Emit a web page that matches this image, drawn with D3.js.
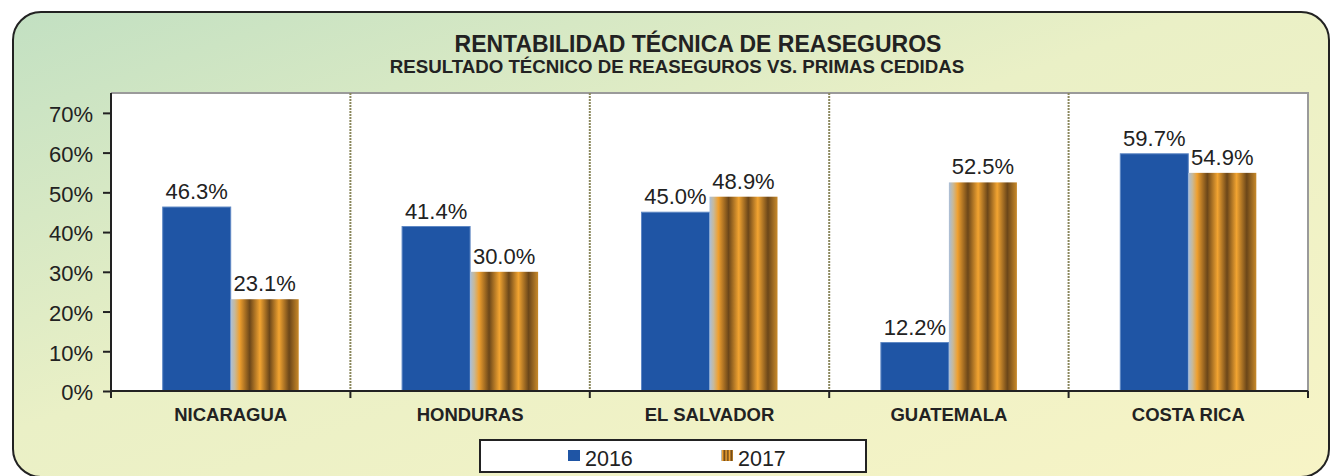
<!DOCTYPE html>
<html>
<head>
<meta charset="utf-8">
<script src="https://cdn.jsdelivr.net/npm/d3@7"></script>
<style>
  body { margin: 0; background: #fff; }
  svg { display: block; font-family: "Liberation Sans", Arial, sans-serif; }
</style>
</head>
<body>
<svg id="chart"></svg>
<script>
const categories = ["NICARAGUA", "HONDURAS", "EL SALVADOR", "GUATEMALA", "COSTA RICA"];
const seriesNames = ["2016", "2017"];
const values2016 = [0.463, 0.414, 0.450, 0.122, 0.597];
const values2017 = [0.231, 0.300, 0.489, 0.525, 0.549];
const yTicks = [0, 0.1, 0.2, 0.3, 0.4, 0.5, 0.6, 0.7];

const W = 1330, H = 476;
const plot = { left: 111, right: 1308, top: 93, bottom: 391 };

const svg = d3.select("#chart").attr("width", W).attr("height", H);
const defs = svg.append("defs");

// background gradient, green top-left to pale yellow
const bg = defs.append("linearGradient").attr("id", "bg")
  .attr("x1", 0).attr("y1", 0).attr("x2", 1).attr("y2", 1);
bg.append("stop").attr("offset", "0%").attr("stop-color", "#c2e0c2");
bg.append("stop").attr("offset", "45%").attr("stop-color", "#eaf0c6");
bg.append("stop").attr("offset", "100%").attr("stop-color", "#f7f4c6");

// striped fill for 2017
const stripes = defs.append("linearGradient").attr("id", "stripes")
  .attr("x1", 0).attr("y1", 0).attr("x2", 1).attr("y2", 0);
[
  [0, "#a9bfdc"], [0.06, "#c7b99a"], [0.13, "#f0a02e"], [0.28, "#6b4619"],
  [0.43, "#f2a431"], [0.57, "#6b4619"], [0.71, "#f2a431"], [0.86, "#6b4619"],
  [1, "#c98a2a"]
].forEach(([o, c]) => stripes.append("stop").attr("offset", o).attr("stop-color", c));

svg.append("rect")
  .attr("x", 13).attr("y", 12).attr("width", 1316).attr("height", 465)
  .attr("rx", 28).attr("ry", 28)
  .attr("fill", "url(#bg)").attr("stroke", "#222").attr("stroke-width", 2);

// titles
svg.append("text").attr("x", 698).attr("y", 52).attr("text-anchor", "middle")
  .style("font-size", "23px").style("font-weight", "bold").attr("fill", "#222")
  .text("RENTABILIDAD TÉCNICA DE REASEGUROS");
svg.append("text").attr("x", 677).attr("y", 73).attr("text-anchor", "middle")
  .style("font-size", "18.7px").style("font-weight", "bold").attr("fill", "#222")
  .text("RESULTADO TÉCNICO DE REASEGUROS VS. PRIMAS CEDIDAS");

const x = d3.scaleBand().domain(categories).range([plot.left, plot.right]).padding(0);
const xs = d3.scaleBand().domain(seriesNames).range([0, x.bandwidth()])
  .paddingInner(0).paddingOuter(0.76);
const y = d3.scaleLinear().domain([0, 0.75]).range([plot.bottom, plot.top]);

// plot area
svg.append("rect")
  .attr("x", plot.left).attr("y", plot.top)
  .attr("width", plot.right - plot.left).attr("height", plot.bottom - plot.top)
  .attr("fill", "#fff");
svg.append("path")
  .attr("d", `M${plot.left},${plot.top}H${plot.right}V${plot.bottom}`)
  .attr("fill", "none").attr("stroke", "#9a9a9a").attr("stroke-width", 2);

// dotted separators
const bounds = categories.slice(1).map(c => x(c));
svg.append("g").selectAll("line").data(bounds).enter().append("line")
  .attr("x1", d => d).attr("x2", d => d)
  .attr("y1", plot.top).attr("y2", plot.bottom)
  .attr("stroke", "#8a875c").attr("stroke-width", 2).attr("stroke-dasharray", "2,1");

// bars
const rows = categories.map((c, i) => ({ cat: c, vals: [values2016[i], values2017[i]] }));
const groups = svg.append("g").selectAll("g").data(rows).enter().append("g")
  .attr("transform", d => `translate(${x(d.cat)},0)`);

groups.selectAll("rect").data(d => d.vals.map((v, j) => ({ s: seriesNames[j], v })))
  .enter().append("rect")
  .attr("x", d => xs(d.s)).attr("y", d => y(d.v))
  .attr("width", xs.bandwidth()).attr("height", d => y(0) - y(d.v))
  .attr("fill", d => d.s === "2016" ? "#1f55a5" : "url(#stripes)")
  .attr("stroke", d => d.s === "2016" ? "#5f88c4" : "none")
  .attr("stroke-width", 1);

groups.selectAll("text").data(d => d.vals.map((v, j) => ({ s: seriesNames[j], v })))
  .enter().append("text")
  .attr("x", d => xs(d.s) + xs.bandwidth() / 2).attr("y", d => y(d.v) - 8)
  .attr("text-anchor", "middle").style("font-size", "22px").attr("fill", "#222")
  .text(d => d3.format(".1%")(d.v));

// y axis
const yAxis = svg.append("g").attr("transform", `translate(${plot.left},0)`)
  .call(d3.axisLeft(y).tickValues(yTicks).tickFormat(d3.format(".0%")).tickSize(8).tickSizeOuter(0));
yAxis.select(".domain").attr("stroke", "#222").attr("stroke-width", 2)
  .attr("d", `M0,${plot.top}V${plot.bottom}`);
yAxis.selectAll(".tick line").attr("stroke", "#222").attr("stroke-width", 2);
yAxis.selectAll(".tick text").attr("x", -18).attr("dy", "0.4em")
  .style("font-size", "22px").style("font-family", "Liberation Sans, Arial, sans-serif").attr("fill", "#222");

// x axis
const xAxisG = svg.append("g");
xAxisG.append("line").attr("x1", plot.left - 1).attr("x2", plot.right)
  .attr("y1", plot.bottom).attr("y2", plot.bottom).attr("stroke", "#222").attr("stroke-width", 2);
xAxisG.selectAll(".xt").data([plot.left, ...bounds, plot.right]).enter().append("line")
  .attr("x1", d => d).attr("x2", d => d).attr("y1", plot.bottom).attr("y2", plot.bottom + 7)
  .attr("stroke", "#222").attr("stroke-width", 2);
xAxisG.selectAll("text").data(categories).enter().append("text")
  .attr("x", d => x(d) + x.bandwidth() / 2).attr("y", 421)
  .attr("text-anchor", "middle").style("font-size", "18.5px").style("font-weight", "bold")
  .attr("fill", "#222").text(d => d);

// legend
const legend = svg.append("g");
legend.append("rect").attr("x", 480).attr("y", 440).attr("width", 386).attr("height", 32)
  .attr("fill", "#fff").attr("stroke", "#222").attr("stroke-width", 2);
const legendItems = [
  { name: seriesNames[0], fill: "#1f55a5", x: 568 },
  { name: seriesNames[1], fill: "url(#stripes)", x: 721 }
];
legend.selectAll(".sw").data(legendItems).enter().append("rect")
  .attr("x", d => d.x).attr("y", 450).attr("width", 12).attr("height", 11)
  .attr("fill", d => d.fill);
legend.selectAll("text").data(legendItems).enter().append("text")
  .attr("x", d => d.x + 17).attr("y", 466)
  .style("font-size", "21.5px").attr("fill", "#222").text(d => d.name);
</script>
</body>
</html>
